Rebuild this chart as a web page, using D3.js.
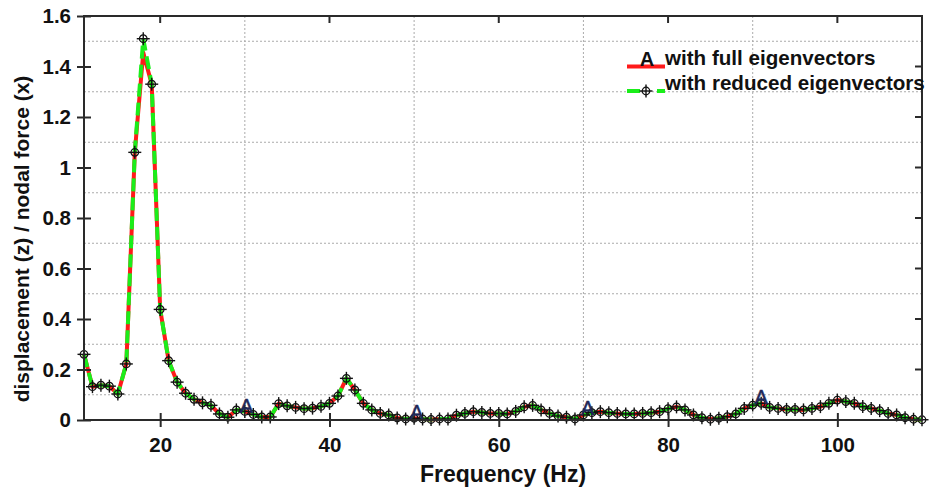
<!DOCTYPE html>
<html>
<head>
<meta charset="utf-8">
<script src="https://cdn.jsdelivr.net/npm/d3@7"></script>
<style>
  html, body { margin: 0; padding: 0; background: #fff; }
  svg { display: block; }
  text { font-family: "Liberation Sans", Arial, sans-serif; font-weight: bold; fill: #111; }
</style>
</head>
<body>
<svg id="chart" width="930" height="489"></svg>
<script>
// Frequency response samples, 1 Hz steps from 11 to 110 Hz
const frequency = d3.range(11, 111);

// Response computed with the reduced eigenvector set
const reducedResponse = [
  0.26, 0.132, 0.138, 0.134, 0.103, 0.222, 1.06, 1.51, 1.33, 0.438,
  0.235, 0.150, 0.106, 0.082, 0.068, 0.058, 0.024, 0.011, 0.040, 0.034,
  0.022, 0.012, 0.012, 0.065, 0.056, 0.050, 0.045, 0.047, 0.054, 0.066,
  0.095, 0.165, 0.119, 0.066, 0.040, 0.026, 0.020, 0.008, 0.004, 0.007,
  0.004, 0.002, 0.004, 0.004, 0.019, 0.026, 0.033, 0.030, 0.026, 0.026,
  0.024, 0.034, 0.052, 0.058, 0.040, 0.026, 0.016, 0.011, 0.004, 0.020,
  0.029, 0.033, 0.029, 0.026, 0.024, 0.024, 0.026, 0.029, 0.033, 0.045,
  0.052, 0.040, 0.020, 0.009, 0.003, 0.007, 0.013, 0.024, 0.046, 0.059,
  0.066, 0.050, 0.046, 0.042, 0.042, 0.040, 0.046, 0.053, 0.066, 0.079,
  0.073, 0.066, 0.053, 0.046, 0.037, 0.026, 0.020, 0.009, 0.003, 0.001
];

// Response computed with the full eigenvector set
const fullResponse = [
  0.26, 0.132, 0.138, 0.134, 0.103, 0.222, 1.06, 1.455, 1.33, 0.438,
  0.235, 0.150, 0.106, 0.082, 0.068, 0.058, 0.024, 0.011, 0.040, 0.034,
  0.022, 0.012, 0.012, 0.065, 0.056, 0.050, 0.045, 0.047, 0.054, 0.066,
  0.095, 0.165, 0.119, 0.066, 0.040, 0.026, 0.020, 0.008, 0.004, 0.007,
  0.004, 0.002, 0.004, 0.004, 0.019, 0.026, 0.033, 0.030, 0.026, 0.026,
  0.024, 0.034, 0.052, 0.058, 0.040, 0.026, 0.016, 0.011, 0.004, 0.020,
  0.029, 0.033, 0.029, 0.026, 0.024, 0.024, 0.026, 0.029, 0.033, 0.045,
  0.052, 0.040, 0.020, 0.009, 0.003, 0.007, 0.013, 0.024, 0.046, 0.059,
  0.066, 0.050, 0.046, 0.042, 0.042, 0.040, 0.046, 0.053, 0.066, 0.079,
  0.073, 0.066, 0.053, 0.046, 0.037, 0.026, 0.020, 0.009, 0.003, 0.001
];

// Frequencies where the "A" symbol of the full series is placed
const fullMarkerFreqs = [30.2, 50.3, 70.5, 91];

// Axis ticks and grid positions
const xTicks = [20, 40, 60, 80, 100];
const yTicks = [0, 0.2, 0.4, 0.6, 0.8, 1, 1.2, 1.4, 1.6];
const yTickLabels = ["0", "0.2", "0.4", "0.6", "0.8", "1", "1.2", "1.4", "1.6"];
const xGrid = [30, 50, 70, 90];
const yGrid = [0.1, 0.3, 0.5, 0.7, 0.9, 1.1, 1.3, 1.5];

const seriesNames = ["with full eigenvectors", "with reduced eigenvectors"];

const svg = d3.select("#chart");
const x = d3.scaleLinear().domain([11, 110]).range([84, 922]);
const y = d3.scaleLinear().domain([0, 1.6]).range([420, 16]);

const RED = "#ff1a1a";
const GREEN = "#1aee1a";

// dotted grid
const grid = svg.append("g").attr("stroke", "#ababab").attr("stroke-width", 1)
  .attr("stroke-dasharray", "2,2");
grid.selectAll("line.v").data(xGrid).join("line").attr("class", "v")
  .attr("x1", d => x(d)).attr("x2", d => x(d)).attr("y1", y(1.6)).attr("y2", y(0));
grid.selectAll("line.h").data(yGrid).join("line").attr("class", "h")
  .attr("x1", x(11)).attr("x2", x(110)).attr("y1", d => y(d)).attr("y2", d => y(d));

// curves: solid red underneath, dashed green on top
const line = d3.line().x(d => x(d[0])).y(d => y(d[1]));
const fullPts = frequency.map((f, i) => [f, fullResponse[i]]);
const reducedPts = frequency.map((f, i) => [f, reducedResponse[i]]);

svg.append("path").datum(fullPts).attr("d", line)
  .attr("fill", "none").attr("stroke", RED).attr("stroke-width", 4)
  .attr("stroke-linejoin", "round");
svg.append("path").datum(reducedPts).attr("d", line)
  .attr("fill", "none").attr("stroke", GREEN).attr("stroke-width", 4)
  .attr("stroke-dasharray", "13,6");

// circle-cross marker
function crossMarker(g) {
  g.append("circle").attr("r", 3.8).attr("fill", "none").attr("stroke", "#111").attr("stroke-width", 1.2);
  g.append("line").attr("x1", -6.5).attr("x2", 6.5).attr("stroke", "#111").attr("stroke-width", 1.4);
  g.append("line").attr("y1", -6.5).attr("y2", 6.5).attr("stroke", "#111").attr("stroke-width", 1.4);
}
svg.append("g").selectAll("g").data(reducedPts).join("g")
  .attr("transform", d => `translate(${x(d[0])},${y(d[1])})`)
  .each(function () { crossMarker(d3.select(this)); });

// "A" symbols on the full series
const fullAt = d3.scaleLinear().domain(frequency).range(fullResponse);
svg.append("g").selectAll("text").data(fullMarkerFreqs).join("text")
  .attr("x", d => x(d)).attr("y", d => y(fullAt(d)) + 1)
  .attr("text-anchor", "middle").style("font-size", "20px").style("font-weight", "normal")
  .style("fill", "#1f2858").style("stroke", "#1f2858").style("stroke-width", 0.5).text("A");

// axes
const axisColor = "#2a2a2a";
const gx = svg.append("g").attr("transform", `translate(0,${y(0)})`)
  .call(d3.axisBottom(x).tickValues(xTicks).tickSize(7).tickPadding(10).tickSizeOuter(0));
gx.selectAll(".tick line").attr("y1", -7);
const gy = svg.append("g").attr("transform", `translate(${x(11)},0)`)
  .call(d3.axisLeft(y).tickValues(yTicks).tickFormat((d, i) => yTickLabels[i])
    .tickSize(7).tickPadding(6).tickSizeOuter(0));
gy.selectAll(".tick line").attr("x1", 7);
[gx, gy].forEach(g => {
  g.select(".domain").remove();
  g.selectAll(".tick line").attr("stroke", axisColor).attr("stroke-width", 2);
  g.selectAll("text").style("font-size", "20.5px").style("fill", "#111");
  g.attr("font-family", null).attr("font-size", null);
});

// top and right inner ticks
svg.append("g").selectAll("line").data(xTicks).join("line")
  .attr("x1", d => x(d)).attr("x2", d => x(d)).attr("y1", y(1.6)).attr("y2", y(1.6) + 7)
  .attr("stroke", axisColor).attr("stroke-width", 2);
svg.append("g").selectAll("line").data(yTicks.slice(1, -1)).join("line")
  .attr("x1", x(110)).attr("x2", x(110) - 7).attr("y1", d => y(d)).attr("y2", d => y(d))
  .attr("stroke", axisColor).attr("stroke-width", 2);

// frame
svg.append("rect").attr("x", x(11)).attr("y", y(1.6))
  .attr("width", x(110) - x(11)).attr("height", y(0) - y(1.6))
  .attr("fill", "none").attr("stroke", axisColor).attr("stroke-width", 2);

// axis titles
svg.append("text").attr("x", 503).attr("y", 482).attr("text-anchor", "middle")
  .style("font-size", "23px").text("Frequency (Hz)");
svg.append("text").attr("transform", "translate(29,239) rotate(-90)")
  .attr("text-anchor", "middle").style("font-size", "21px")
  .text("displacement (z) / nodal force (x)");

// legend
const lg = svg.append("g");
lg.append("line").attr("x1", 627).attr("x2", 665).attr("y1", 66.5).attr("y2", 66.5)
  .attr("stroke", RED).attr("stroke-width", 4);
lg.append("text").attr("x", 647).attr("y", 66).attr("text-anchor", "middle")
  .style("font-size", "20px").text("A");
lg.append("text").attr("x", 665).attr("y", 65).style("font-size", "20.6px").text(seriesNames[0]);
lg.append("line").attr("x1", 627).attr("x2", 665).attr("y1", 91).attr("y2", 91)
  .attr("stroke", GREEN).attr("stroke-width", 4).attr("stroke-dasharray", "13,17,8,40");
crossMarker(lg.append("g").attr("transform", "translate(646,91)"));
lg.append("text").attr("x", 665).attr("y", 90).style("font-size", "20.6px").text(seriesNames[1]);
</script>
</body>
</html>
